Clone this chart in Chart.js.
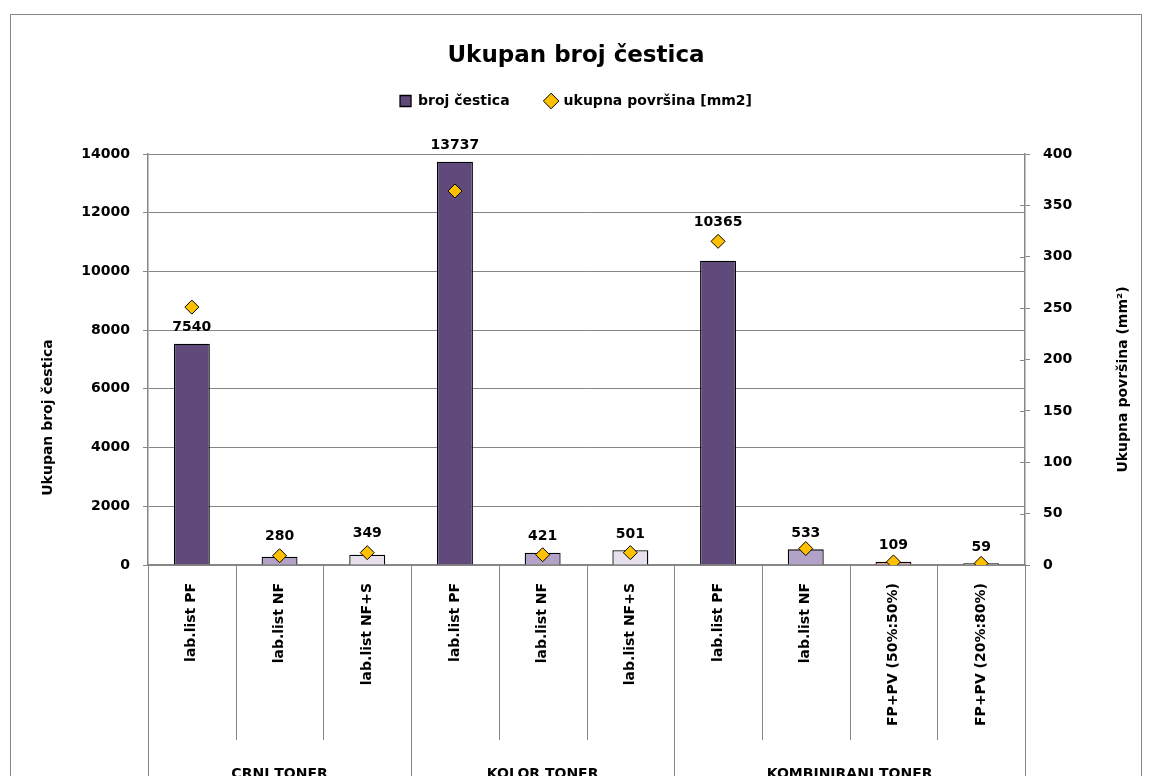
<!DOCTYPE html>
<html><head><meta charset="utf-8">
<script src="https://cdn.jsdelivr.net/npm/chart.js@4.4.1/dist/chart.umd.min.js"></script>
<style>html,body{margin:0;padding:0;background:#fff}#wrap{width:1152px;height:776px;overflow:hidden}</style>
</head><body><div id="wrap"><canvas id="c" width="1152" height="776"></canvas></div>
<script>
const categories = ['lab.list PF','lab.list NF','lab.list NF+S','lab.list PF','lab.list NF','lab.list NF+S','lab.list PF','lab.list NF','FP+PV (50%:50%)','FP+PV (20%:80%)'];
const groups = ['CRNI TONER','KOLOR TONER','KOMBINIRANI TONER'];
const groupSizes = [3,3,4];
const particleCounts = [7540,280,349,13737,421,501,10365,533,109,59];
const totalArea = [251,9,12,364,10,12,315,16,3,1.6];
const barColors = ['#604A7B','#B3A2C7','#E6E0EC','#604A7B','#B3A2C7','#E6E0EC','#604A7B','#B3A2C7','#E0A8A4','#D9D9D9'];
const leftAxis = {min:0, max:14000, step:2000, title:'Ukupan broj čestica'};
const rightAxis = {min:0, max:400, step:50, title:'Ukupna površina (mm²)'};
const seriesNames = ['broj čestica','ukupna površina [mm2]'];
const chartTitle = 'Ukupan broj čestica';

const FONT = "'DejaVu Sans', sans-serif";
const GRAY = '#868686';

const extras = {
  id:'extras',
  beforeDraw(chart){
    const c = chart.ctx;
    c.save();
    c.fillStyle='#fff'; c.fillRect(0,0,chart.width,chart.height);
    c.strokeStyle=GRAY; c.lineWidth=1;
    c.strokeRect(10.5,14.5,1131,900);
    c.restore();
  },
  afterDatasetsDraw(chart){
    const c = chart.ctx;
    c.save();
    const meta = chart.getDatasetMeta(0);
    const pts = chart.getDatasetMeta(1).data;
    c.font = "bold 14px "+FONT; c.fillStyle='#000'; c.textAlign='center'; c.textBaseline='bottom';
    meta.data.forEach((bar,i)=>{
      let yb = bar.y - 9;
      const p = pts[i];
      if (p) {
        const top = p.y - 8, bot = p.y + 8;
        if (bot > yb - 15 && top < yb) yb = top - 4;
      }
      c.fillText(String(particleCounts[i]), bar.x, yb);
    });
    c.restore();
  },
  afterDraw(chart){
    const c = chart.ctx, ca = chart.chartArea;
    const xs = chart.scales.x, y1 = chart.scales.y1;
    const n = categories.length;
    const boundary = i => i===0 ? ca.left : (i===n ? ca.right : (xs.getPixelForValue(i-1)+xs.getPixelForValue(i))/2);
    c.save();
    c.strokeStyle=GRAY; c.lineWidth=1;
    const groupEdges=[0]; groupSizes.reduce((a,s)=>{groupEdges.push(a+s); return a+s;},0);
    for(let i=0;i<=n;i++){
      const x = Math.round(boundary(i))+0.5;
      const isGroup = groupEdges.includes(i);
      c.beginPath(); c.moveTo(x, ca.bottom); c.lineTo(x, isGroup ? chart.height : ca.bottom+175); c.stroke();
    }
    for(let v=rightAxis.min; v<=rightAxis.max; v+=rightAxis.step){
      const y = Math.round(y1.getPixelForValue(v))+0.5;
      c.beginPath(); c.moveTo(ca.right-5,y); c.lineTo(ca.right,y); c.stroke();
    }
    c.font = "bold 14px "+FONT; c.fillStyle='#000'; c.textAlign='center'; c.textBaseline='top';
    groups.forEach((g,k)=>{
      const xa = boundary(groupEdges[k]), xb = boundary(groupEdges[k+1]);
      c.fillText(g, (xa+xb)/2, 767);
    });
    const midY = (ca.top+ca.bottom)/2;
    c.save(); c.translate(48, midY+58); c.rotate(-Math.PI/2); c.textBaseline='middle'; c.fillText(leftAxis.title,0,0); c.restore();
    c.save(); c.translate(1123, midY+20); c.rotate(-Math.PI/2); c.textBaseline='middle'; c.fillText(rightAxis.title,0,0); c.restore();
    c.restore();
  }
};

new Chart(document.getElementById('c'), {
  data:{
    labels: categories,
    datasets:[
      {type:'bar', label:seriesNames[0], data:particleCounts, backgroundColor:barColors, borderColor:'#000', borderWidth:1.3, barPercentage:0.41, categoryPercentage:1, yAxisID:'y', order:2, pointStyle:'rect'},
      {type:'line', label:seriesNames[1], data:totalArea, showLine:false, pointStyle:'rectRot', pointRadius:7, pointHoverRadius:7, backgroundColor:'#FFC000', borderColor:'#000', borderWidth:1, pointBorderWidth:1, yAxisID:'y1', order:1}
    ]
  },
  options:{
    responsive:false, animation:false, devicePixelRatio:1,
    layout:{padding:0},
    plugins:{
      tooltip:{enabled:false},
      title:{display:true, text:chartTitle, color:'#000', font:{family:FONT, size:23, weight:'bold', lineHeight:1}, padding:{top:45,bottom:-10}},
      subtitle:{display:true, text:' ', position:'top', weight:100, font:{size:1, lineHeight:1}, padding:{top:0,bottom:35}},
      legend:{display:true, position:'top', labels:{usePointStyle:true, boxWidth:11, boxHeight:11, padding:36, color:'#000', font:{family:FONT, size:14, weight:'bold'},
        sort:(a,b)=>a.datasetIndex-b.datasetIndex}}
    },
    scales:{
      x:{type:'category', offset:true, grid:{display:false, drawTicks:false}, border:{display:true, color:GRAY, width:1.5},
         ticks:{autoSkip:false, minRotation:90, maxRotation:90, padding:18, color:'#000', font:{family:FONT, size:14, weight:'bold'}},
         afterFit(s){ s.height = 211; }},
      y:{type:'linear', position:'left', min:leftAxis.min, max:leftAxis.max,
         ticks:{stepSize:leftAxis.step, padding:13, color:'#000', font:{family:FONT, size:14, weight:'bold'}, callback:v=>String(v)},
         grid:{color:GRAY, tickLength:5, lineWidth:1}, border:{color:GRAY, width:1.5},
         afterFit(s){ s.width = 148; }},
      y1:{type:'linear', position:'right', min:rightAxis.min, max:rightAxis.max,
         ticks:{stepSize:rightAxis.step, padding:13, color:'#000', font:{family:FONT, size:14, weight:'bold'}, callback:v=>String(v)},
         grid:{drawOnChartArea:false, color:GRAY, tickLength:5}, border:{color:GRAY, width:1.5},
         afterFit(s){ s.width = 127; }}
    }
  },
  plugins:[extras]
});
</script>
</body></html>
